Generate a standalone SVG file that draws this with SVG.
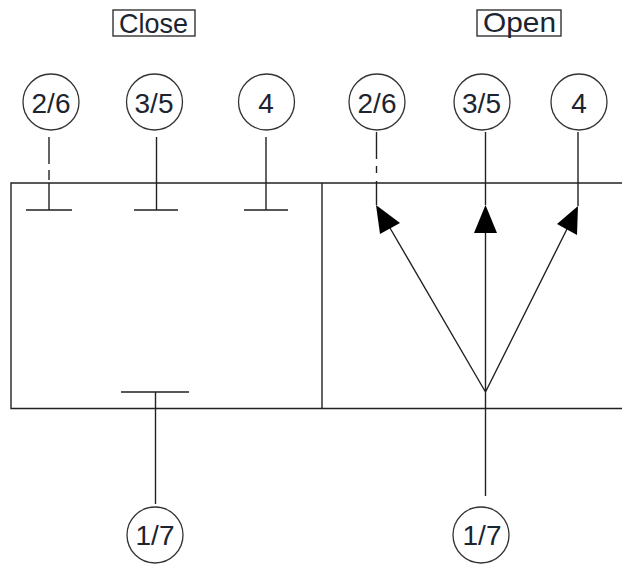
<svg xmlns="http://www.w3.org/2000/svg" width="622" height="564" viewBox="0 0 622 564">
<style>
.l{stroke:#222;stroke-width:1.4;fill:none}
.c{stroke:#333;stroke-width:1.3;fill:#fff}
.b{stroke:#333;stroke-width:1.4;fill:#fff}
.t{font-family:"Liberation Sans",Arial,sans-serif;font-size:28px;fill:#1c2430;text-anchor:middle}
.a{fill:#000;stroke:none}
</style>
<rect width="622" height="564" fill="#fff"/>
<g id="frame"><path class="l" d="M622 183H11V408.500H622M322 183V408.500"/></g>
<g id="connectors">
<path class="l" d="M49 137V164M49 170V180M49 183V210M26 210H72"/>
<path class="l" d="M156.500 137V210M134 210H178"/>
<path class="l" d="M266 137V210M244 210H288"/>
<path class="l" d="M155.500 392V504M121 392H189"/>
<path class="l" d="M376.500 132V159M376.500 166V173M376.500 181V205"/>
<path class="l" d="M485.500 132V205M578 132V206"/>
<path class="l" d="M485.500 225V496M485.500 392L390 228M485.500 392L567 229"/>
<polygon class="a" points="376,205 380,234 400,223"/>
<polygon class="a" points="485.500,205 474,233 497,233"/>
<polygon class="a" points="578,206 557,224 577,235"/>
</g>
<g id="label-close"><rect class="b" x="113" y="10" width="82" height="26"/><text class="t" x="153.500" y="33" textLength="69" lengthAdjust="spacingAndGlyphs">Close</text></g>
<g id="label-open"><rect class="b" x="477" y="10" width="84" height="26"/><text class="t" x="519.500" y="32" textLength="73" lengthAdjust="spacingAndGlyphs">Open</text></g>
<g id="close-2-6"><circle class="c" cx="51" cy="102" r="28"/><text class="t" x="51" y="113">2/6</text></g>
<g id="close-3-5"><circle class="c" cx="154.500" cy="102" r="28"/><text class="t" x="154" y="113">3/5</text></g>
<g id="close-4"><circle class="c" cx="266.500" cy="102" r="28"/><text class="t" x="266" y="113">4</text></g>
<g id="open-2-6"><circle class="c" cx="377" cy="102" r="28"/><text class="t" x="377" y="113">2/6</text></g>
<g id="open-3-5"><circle class="c" cx="482" cy="102" r="28"/><text class="t" x="481.500" y="113">3/5</text></g>
<g id="open-4"><circle class="c" cx="579" cy="102" r="28"/><text class="t" x="579" y="113">4</text></g>
<g id="close-1-7"><circle class="c" cx="155" cy="535" r="28"/><text class="t" x="155" y="545">1/7</text></g>
<g id="open-1-7"><circle class="c" cx="481" cy="535" r="28"/><text class="t" x="482" y="545">1/7</text></g>
</svg>
